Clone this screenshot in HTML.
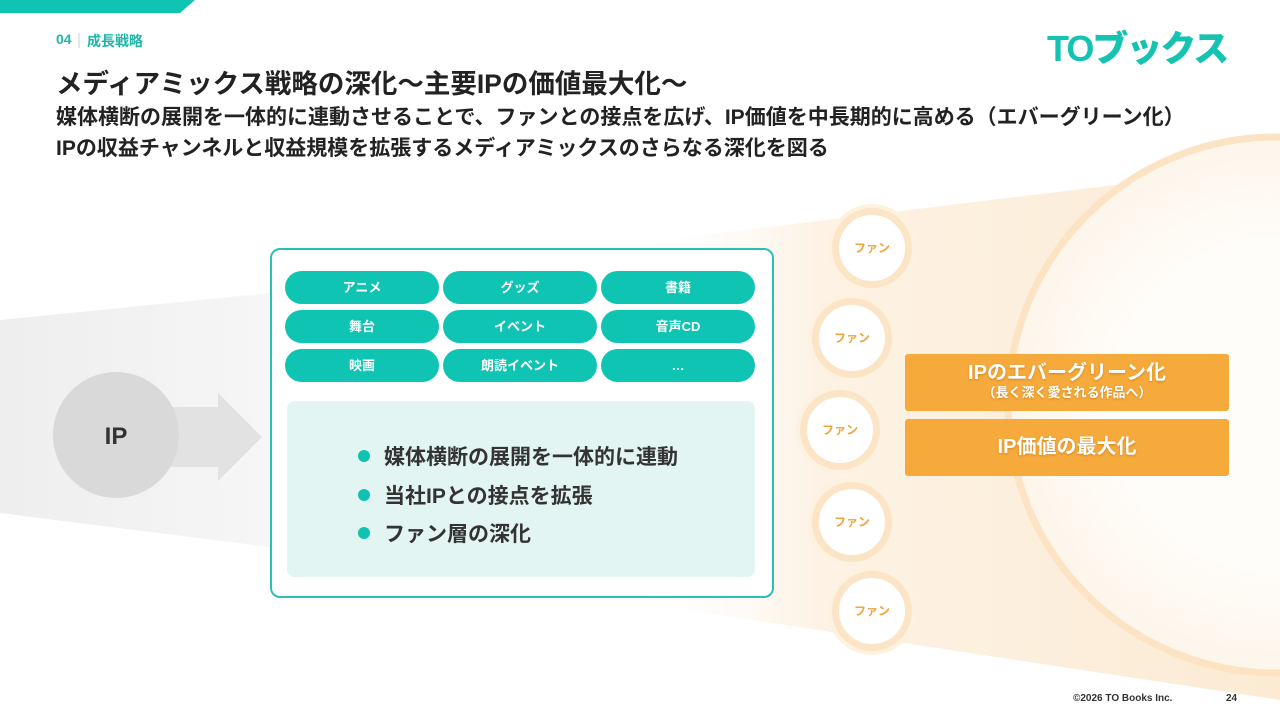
<!DOCTYPE html>
<html><head><meta charset="utf-8"><style>
body{margin:0;width:1280px;height:720px;position:relative;overflow:hidden;background:#fff;font-family:"Liberation Sans","Noto Sans CJK JP",sans-serif;}
.a{position:absolute}
.pill{position:absolute;width:154px;height:33px;border-radius:17px;background:#0fc4b3;color:#fff;font-weight:bold;font-size:13px;text-align:center;line-height:33px}
.fan{position:absolute;width:66px;height:66px;border-radius:50%;background:#fff;border:7px solid #fbe5c6;box-shadow:0 0 0 4px #fdf1e0;color:#f0a43c;font-weight:bold;font-size:12px;text-align:center;line-height:66px}
.ob{position:absolute;left:905px;width:324px;height:57px;background:#f6aa3b;border-radius:3px;color:#fff;font-weight:bold;text-align:center;text-shadow:0 1px 2px rgba(150,80,0,.4)}
.li{position:absolute;left:358px;font-size:21px;font-weight:bold;color:#333}
.li:before{content:"";position:absolute;left:0;top:9px;width:12px;height:12px;border-radius:50%;background:#12c2b1}
.li span{margin-left:26px}
</style></head><body>
<svg class="a" style="left:0;top:0" width="1280" height="720">
<defs>
<linearGradient id="og" x1="0" x2="1"><stop offset="0" stop-color="#fff" stop-opacity="0"/><stop offset="0.3" stop-color="#fdf2e4"/><stop offset="1" stop-color="#fcebd4"/></linearGradient>
<linearGradient id="gg" x1="0" x2="1"><stop offset="0" stop-color="#eeeeee"/><stop offset="1" stop-color="#f6f6f6"/></linearGradient>
<radialGradient id="cg"><stop offset="0.6" stop-color="#fffdfa"/><stop offset="1" stop-color="#fdf5ea"/></radialGradient>
</defs>
<polygon points="0,0 195,0 180,13 0,13" fill="#0fc4b3"/>
<polygon points="620,245 1280,165 1280,700 620,600" fill="url(#og)"/>
<circle cx="1276" cy="405" r="268" fill="url(#cg)" stroke="#fbe3c3" stroke-width="7"/>
<polygon points="0,320 270,293 270,547 0,513" fill="url(#gg)"/>
<polygon points="150,407 218,407 218,393 262,437 218,481 218,467 150,467" fill="#e2e2e2"/>
<circle cx="116" cy="435" r="63" fill="#d9d9d9"/>
<text x="116" y="444" font-size="24" font-weight="bold" fill="#333" text-anchor="middle" font-family="Liberation Sans">IP</text>
<line x1="79" y1="33" x2="79" y2="48" stroke="#ccc" stroke-width="1"/>
</svg>
<div class="a" style="left:56px;top:31px;font-size:14px;font-weight:bold;color:#21b5a8">04</div>
<div class="a" style="left:87px;top:31px;font-size:14px;font-weight:bold;color:#21b5a8">成長戦略</div>
<div class="a" style="left:1047px;top:20px;font-size:36px;font-weight:900;color:#14c3b2;letter-spacing:-2px">TOブックス</div>
<div class="a" style="left:56px;top:62px;font-size:26.5px;font-weight:bold;color:#222">メディアミックス戦略の深化〜主要IPの価値最大化〜</div>
<div class="a" style="left:56px;top:102px;font-size:21px;font-weight:bold;color:#222;line-height:31px">媒体横断の展開を一体的に連動させることで、ファンとの接点を広げ、IP価値を中長期的に高める（エバーグリーン化）<br>IPの収益チャンネルと収益規模を拡張するメディアミックスのさらなる深化を図る</div>
<div class="a" style="left:270px;top:248px;width:500px;height:346px;border:2px solid #2bc0b2;border-radius:10px;background:#fff"></div>
<div class="pill" style="left:285px;top:271px">アニメ</div>
<div class="pill" style="left:443px;top:271px">グッズ</div>
<div class="pill" style="left:601px;top:271px">書籍</div>
<div class="pill" style="left:285px;top:310px">舞台</div>
<div class="pill" style="left:443px;top:310px">イベント</div>
<div class="pill" style="left:601px;top:310px">音声CD</div>
<div class="pill" style="left:285px;top:349px">映画</div>
<div class="pill" style="left:443px;top:349px">朗読イベント</div>
<div class="pill" style="left:601px;top:349px">…</div>
<div class="a" style="left:287px;top:401px;width:468px;height:176px;background:#e2f5f2;border-radius:8px"></div>
<div class="li" style="top:441px"><span>媒体横断の展開を一体的に連動</span></div>
<div class="li" style="top:480px"><span>当社IPとの接点を拡張</span></div>
<div class="li" style="top:518px"><span>ファン層の深化</span></div>
<div class="fan" style="left:832px;top:208px">ファン</div>
<div class="fan" style="left:812px;top:298px">ファン</div>
<div class="fan" style="left:800px;top:390px">ファン</div>
<div class="fan" style="left:812px;top:482px">ファン</div>
<div class="fan" style="left:832px;top:571px">ファン</div>
<div class="ob" style="top:354px"><div style="font-size:20px;margin-top:7px;line-height:24px">IPのエバーグリーン化</div><div style="font-size:13px;line-height:16px">（長く深く愛される作品へ）</div></div>
<div class="ob" style="top:419px;font-size:20px;line-height:57px">IP価値の最大化</div>
<div class="a" style="left:1073px;top:693px;font-size:10px;font-weight:bold;color:#333">©2026  TO Books Inc.</div>
<div class="a" style="left:1226px;top:693px;font-size:10px;font-weight:bold;color:#333">24</div>
</body></html>
